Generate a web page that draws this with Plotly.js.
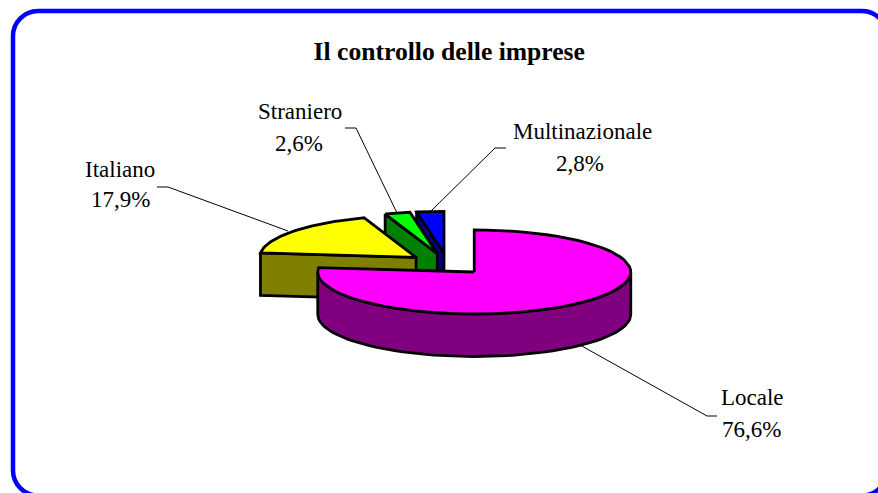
<!DOCTYPE html>
<html>
<head>
<meta charset="utf-8">
<script src="https://cdn.plot.ly/plotly-3.0.1.min.js"></script>
<style>html,body{margin:0;padding:0;background:#fff;overflow:hidden}#chart{width:878px;height:493px}</style>
</head>
<body>
<div id="chart"></div>
<script>
// Data
const chartTitle = "Il controllo delle imprese";
const categories = ["Locale", "Italiano", "Straniero", "Multinazionale"];
const shares = [76.6, 17.9, 2.6, 2.8];
const topColors = ["#ff00ff", "#ffff00", "#00ff00", "#0000ff"];
const wallColors = ["#800080", "#808000", "#008000", "#000080"];

// Projection of the tilted, exploded pie
const W = 878, H = 493;
const centre = {x: 447.5, y: 264}, rx = 156.5, ry = 42, depth = 42.5, explode = 40;
const total = shares.reduce((a, b) => a + b, 0);
const rad = d => d * Math.PI / 180;

let acc = 0;
const slices = shares.map((v, i) => {
  const start = acc / total * 360;
  acc += v;
  const end = acc / total * 360;
  const mid = (start + end) / 2;
  return {
    i, start, end,
    cx: centre.x + explode * Math.sin(rad(mid)),
    cy: centre.y - explode * (ry / rx) * Math.cos(rad(mid))
  };
});
const rim = (s, a) => ({x: s.cx + rx * Math.sin(rad(a)), y: s.cy - ry * Math.cos(rad(a))});

function poly(xs, ys, fill) {
  return {type: "scatter", mode: "lines", x: xs, y: ys, fill: "toself", fillcolor: fill,
    line: {color: "#000", width: 2.8}, hoverinfo: "skip", showlegend: false};
}
function sliceTraces(s) {
  const tx = [s.cx], ty = [s.cy];
  for (let a = s.start; a <= s.end + 1e-6; a += (s.end - s.start) / 60) {
    const p = rim(s, a); tx.push(p.x); ty.push(p.y);
  }
  tx.push(s.cx); ty.push(s.cy);
  let wx = [], wy = [];
  if (s.i === 0) {
    // outer curved wall, front half of the rim
    for (let a = 90; a <= 270; a += 3) { const p = rim(s, a); wx.push(p.x); wy.push(p.y); }
    for (let a = 270; a >= 90; a -= 3) { const p = rim(s, a); wx.push(p.x); wy.push(p.y + depth); }
    wx.push(wx[0]); wy.push(wy[0]);
  } else {
    // flat cut face running from the rim to the apex
    const p = rim(s, s.start);
    wx = [p.x, s.cx, s.cx, p.x, p.x];
    wy = [p.y, s.cy, s.cy + depth, p.y + depth, p.y];
  }
  return [poly(wx, wy, wallColors[s.i]), poly(tx, ty, topColors[s.i])];
}

const order = [3, 2, 1, 0];
const traces = [];
order.forEach(i => traces.push(...sliceTraces(slices[i])));

// Leader lines
const leaders = [
  [[717, 707, 580], [416, 416, 345]],
  [[157, 168, 288], [187, 187, 231]],
  [[345, 356, 397], [128, 128, 213]],
  [[506, 495, 430], [148, 148, 212]]
];
const leaderTraces = leaders.map(l => ({type: "scatter", mode: "lines", x: l[0], y: l[1],
  line: {color: "#000", width: 1}, hoverinfo: "skip", showlegend: false}));

// Labels
const nameAt = [[752, 397], [120, 169], [300, 111.5], [582, 131]];
const pctAt = [[751, 429], [120, 199.5], [299, 143], [580, 163]];
const font = {family: "Liberation Serif, Times New Roman, serif", size: 23, color: "#000"};
const note = (text, at) => ({text, x: at[0], y: at[1], xref: "x", yref: "y",
  showarrow: false, xanchor: "center", yanchor: "middle", font});
const annotations = [];
categories.forEach((c, i) => {
  annotations.push(note(c, nameAt[i]));
  annotations.push(note(shares[i].toFixed(1).replace(".", ",") + "%", pctAt[i]));
});

// Rounded frame
const L = 13, T = 11, R = 887, B = 495.5, r = 25, k = r * 0.45;
const frame = `M ${L} ${T + r} C ${L} ${T + k} ${L + k} ${T} ${L + r} ${T} L ${R - r} ${T} ` +
  `C ${R - k} ${T} ${R} ${T + k} ${R} ${T + r} L ${R} ${B - r} C ${R} ${B - k} ${R - k} ${B} ${R - r} ${B} ` +
  `L ${L + r} ${B} C ${L + k} ${B} ${L} ${B - k} ${L} ${B - r} Z`;

Plotly.newPlot("chart", [...traces, ...leaderTraces], {
  width: W, height: H,
  margin: {l: 0, r: 0, t: 0, b: 0},
  paper_bgcolor: "#fff", plot_bgcolor: "#fff",
  showlegend: false,
  title: {text: "<b>" + chartTitle + "</b>", x: 0.5117, xanchor: "center", y: 0.897, yanchor: "middle",
    font: {family: "Liberation Serif, Times New Roman, serif", size: 25.6, color: "#000"}},
  xaxis: {range: [0, W], visible: false, fixedrange: true},
  yaxis: {range: [H, 0], visible: false, fixedrange: true},
  annotations,
  shapes: [{type: "path", path: frame, xref: "x", yref: "y", layer: "below",
    line: {color: "#0000ff", width: 4.5}, fillcolor: "rgba(0,0,0,0)"}]
}, {staticPlot: true, displayModeBar: false});
</script>
</body>
</html>
